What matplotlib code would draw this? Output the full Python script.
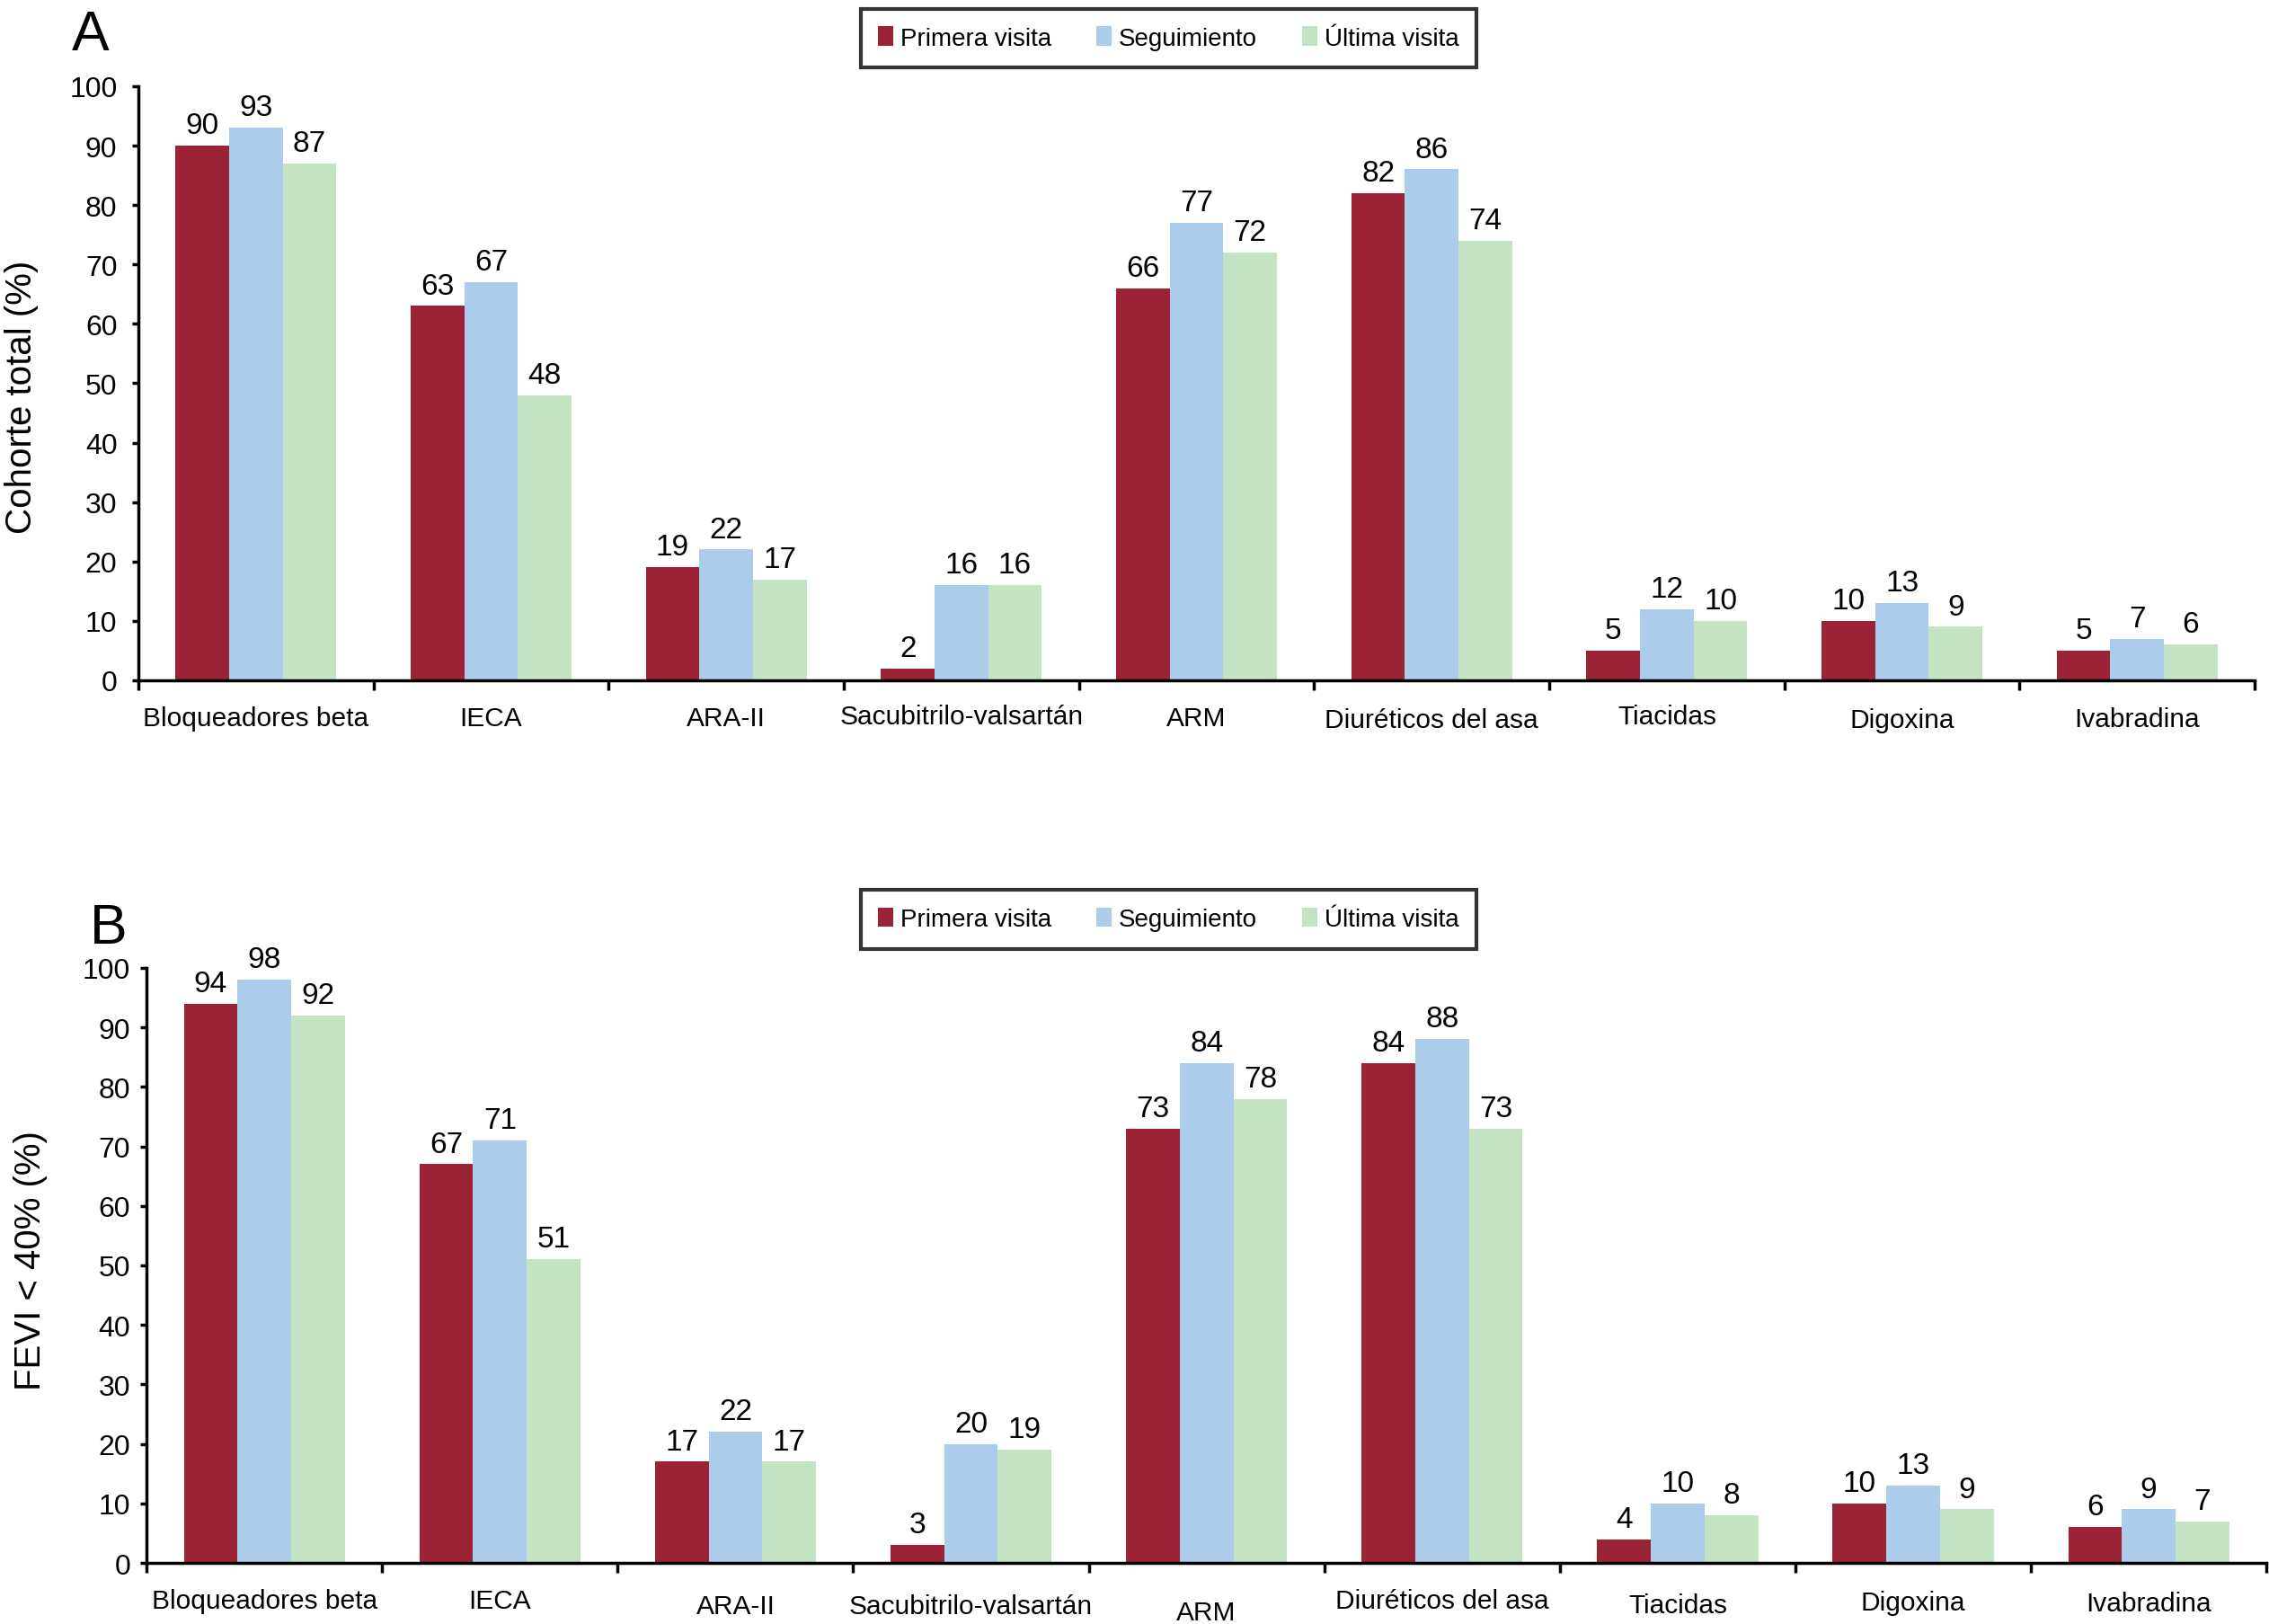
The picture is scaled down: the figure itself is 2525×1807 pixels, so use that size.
import numpy as np
import matplotlib
matplotlib.use("Agg")
import matplotlib.pyplot as plt
import matplotlib.transforms as mtransforms

plt.rcParams['font.family'] = ['Liberation Sans', 'DejaVu Sans']

# datos
categorias = ["Bloqueadores beta", "IECA", "ARA-II", "Sacubitrilo-valsartán", "ARM",
              "Diuréticos del asa", "Tiacidas", "Digoxina", "Ivabradina"]
series = ["Primera visita", "Seguimiento", "Última visita"]

# panel A: cohorte total
a_primera = [90, 63, 19, 2, 66, 82, 5, 10, 5]
a_seguimiento = [93, 67, 22, 16, 77, 86, 12, 13, 7]
a_ultima = [87, 48, 17, 16, 72, 74, 10, 9, 6]

# panel B: FEVI < 40%
b_primera = [94, 67, 17, 3, 73, 84, 4, 10, 6]
b_seguimiento = [98, 71, 22, 20, 84, 88, 10, 13, 9]
b_ultima = [92, 51, 17, 19, 78, 73, 8, 9, 7]

colores = ["#9B2335", "#ABCDEB", "#C3E3C4"]
W = 0.228


def panel(ax, valores, ylabel, label_xy, tick_pad, cat_offsets):
    x = np.arange(len(categorias)) + 0.5
    handles = []
    for i, (vals, col) in enumerate(zip(valores, colores)):
        bars = ax.bar(x + (i - 1) * W, vals, W, color=col, linewidth=0,
                      label=series[i])
        handles.append(bars)
        for b, v in zip(bars, vals):
            ax.annotate(str(v), (b.get_x() + b.get_width() / 2, b.get_height()),
                        xytext=(0, 10), textcoords="offset points",
                        ha="center", va="baseline", fontsize=24)

    ax.set_xlim(0, len(categorias))
    ax.set_ylim(0, 100)
    ax.set_yticks(np.arange(0, 101, 10))
    ax.tick_params(axis="y", direction="out", length=5, width=2.5,
                   labelsize=23, pad=tick_pad)

    # etiquetas de categorias en el centro, separadores en los bordes
    ax.set_xticks(x)
    ax.set_xticklabels(categorias, fontsize=21.5)
    ax.tick_params(axis="x", which="major", length=0, pad=20)
    ax.set_xticks(np.arange(0, len(categorias) + 1), minor=True)
    ax.tick_params(axis="x", which="minor", direction="out", length=8, width=2.5)
    for lab, dy in zip(ax.get_xticklabels(), cat_offsets):
        lab.set_transform(lab.get_transform() +
                          mtransforms.ScaledTranslation(0, -dy / 100, ax.figure.dpi_scale_trans))

    for s in ["top", "right"]:
        ax.spines[s].set_visible(False)
    ax.spines["left"].set_linewidth(2.5)
    ax.spines["bottom"].set_linewidth(2.5)

    ax.set_ylabel(ylabel, fontsize=29)
    ax.yaxis.set_label_coords(*label_xy)
    return handles


fig = plt.figure(figsize=(25.25, 18.08), dpi=100)

axA = fig.add_axes([0.0610, 0.5808, 0.9327, 0.3656])
hA = panel(axA, [a_primera, a_seguimiento, a_ultima], "Cohorte total (%)",
           (-0.0471, 0.478), 12, [0, 0, 0, -2, 0, 2, -2, 2, 1])

axB = fig.add_axes([0.0646, 0.0376, 0.9343, 0.3662])
hB = panel(axB, [b_primera, b_seguimiento, b_ultima], "FEVI < 40% (%)",
           (-0.0466, 0.509), 8, [0, 0, 6, 6, 13, 0, 5, 2, 3])

for h, yc in [(hA, 0.976), (hB, 0.4336)]:
    leg = fig.legend(h, series, loc="center", bbox_to_anchor=(0.515, yc),
                     ncol=3, fontsize=20, frameon=True, fancybox=False,
                     edgecolor="black", handlelength=0.6, handleheight=0.8,
                     handletextpad=0.3, columnspacing=1.8, borderpad=0.7)
    leg.get_frame().set_linewidth(3)

fig.text(0.0317, 0.969, "A", fontsize=45, va="baseline")
fig.text(0.0396, 0.4192, "B", fontsize=45, va="baseline")

plt.savefig("out.png", dpi=100)
